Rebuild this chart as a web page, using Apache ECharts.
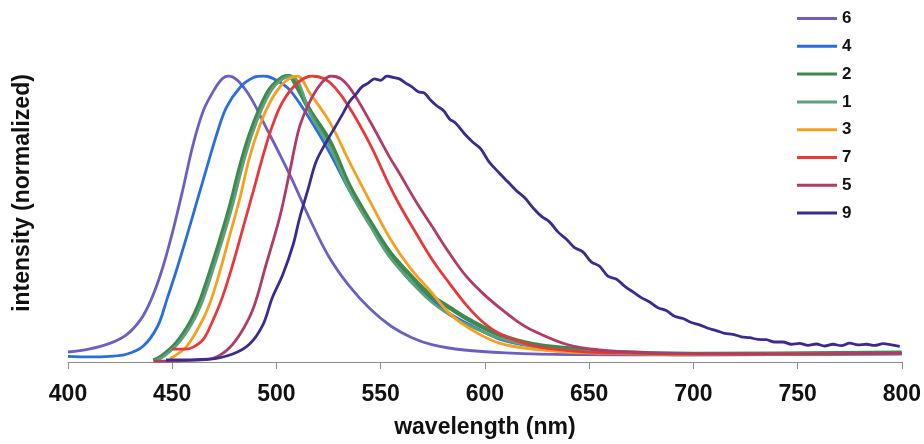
<!DOCTYPE html>
<html>
<head>
<meta charset="utf-8">
<script src="https://cdn.jsdelivr.net/npm/echarts@6/dist/echarts.min.js"></script>
<style>
  html, body { margin: 0; padding: 0; background: #fff; }
  #chart { width: 924px; height: 444px; }
</style>
</head>
<body>
<div id="chart"></div>
<script>
// legend order and colours
var names = ['6', '4', '2', '1', '3', '7', '5', '9'];
var colors = ['#6a60c2', '#2a6ede', '#3e8a4e', '#5fa07c', '#f5a021', '#e8383a', '#b03a68', '#3a2c8e'];
var widths = [2.8, 2.8, 4.5, 2.8, 2.8, 2.8, 2.8, 2.8];

var xTicks = [400, 450, 500, 550, 600, 650, 700, 750, 800];

// wavelength (nm) / normalized intensity
var wl6 = [400, 410, 420, 428, 435, 440, 445, 450, 455, 460, 465, 470, 474, 477, 482, 488, 495, 502, 508, 516, 525, 535, 545, 555, 565, 575, 590, 610, 640, 700, 800];
var int6 = [.035, .045, .065, .095, .15, .22, .32, .45, .6, .76, .88, .95, .99, 1.0, .98, .92, .82, .72, .63, .5, .37, .265, .185, .125, .085, .06, .042, .032, .026, .025, .028];

var wl4 = [400, 410, 420, 428, 436, 443, 447.5, 452, 457, 462, 467, 471.5, 476, 482.5, 489, 494, 500, 506.5, 516, 525.7, 535, 545, 554.4, 564, 573.6, 583, 592.8, 607, 623, 640, 660, 700, 800];
var int4 = [.02, .018, .02, .027, .055, .125, .22, .32, .44, .565, .69, .8, .89, .96, .995, 1.0, .985, .95, .85, .73, .6, .48, .375, .285, .225, .17, .13, .08, .055, .042, .032, .027, .03];

var wl2 = [441, 445, 452, 458.5, 463, 468, 473, 478, 482.5, 487, 492, 497, 503, 506, 510, 516, 525.7, 535, 545, 554, 564, 573.6, 583, 593, 607, 623, 639, 660, 700, 800];
var int2 = [.005, .02, .066, .135, .204, .31, .425, .55, .68, .79, .885, .955, .995, 1.0, .96, .88, .77, .616, .49, .387, .305, .235, .19, .145, .095, .062, .048, .035, .028, .032];

var wl1 = [442, 446, 453, 459.5, 464, 469, 474, 479, 483.5, 488, 493, 498, 503, 507, 511, 516, 525.7, 535, 545, 554, 564, 573.6, 583, 593, 607, 623, 640, 660, 700, 800];
var int1 = [.005, .02, .066, .135, .204, .31, .425, .55, .68, .79, .885, .955, .99, 1.0, .97, .87, .75, .6, .475, .37, .285, .215, .165, .125, .083, .055, .04, .032, .027, .03];

var wl3 = [449, 453, 457, 463, 468, 473, 477.7, 482.5, 487, 492, 497, 502, 506, 510, 516, 525.7, 535, 545, 554.4, 564, 573.6, 583, 593, 607, 623, 640, 660, 700, 800];
var int3 = [.012, .03, .055, .125, .204, .32, .446, .574, .713, .827, .91, .965, .99, 1.0, .94, .837, .7, .56, .433, .33, .25, .17, .115, .066, .045, .035, .03, .027, .03];

var wl7 = [450, 456, 460, 465, 469.5, 474, 479, 484, 489, 493.5, 498, 503, 510, 517, 523, 528, 535, 545, 554, 559, 567, 575, 583, 591, 599, 607, 623, 640, 660, 700, 800];
var int7 = [.045, .045, .052, .08, .145, .225, .34, .47, .6, .72, .825, .91, .975, 1.0, .99, .96, .89, .76, .62, .55, .45, .355, .275, .2, .14, .1, .057, .04, .032, .028, .03];

var wl5 = [441, 455, 468, 476, 482.5, 489, 495, 501.7, 506.5, 511, 516, 521, 526, 531, 536, 545, 554, 559, 567, 575, 583, 591, 599, 607, 615, 623, 639, 655, 680, 720, 800];
var int5 = [.003, .005, .01, .04, .097, .19, .34, .51, .67, .82, .91, .97, 1.0, .99, .95, .84, .72, .66, .56, .47, .38, .3, .24, .19, .145, .11, .062, .042, .032, .028, .03];

var wl9 = [447, 468, 479, 487, 493.5, 498, 503, 508, 511, 515, 519, 524, 528, 532, 535, 538, 541, 544, 547, 550, 553, 556, 559, 562, 565, 568, 571, 574, 577, 580, 583, 586, 590, 594, 598, 602, 607, 611, 615, 619, 623, 627, 631, 635, 639, 643, 647, 651, 655, 659, 663, 667, 671, 675, 679, 683, 687, 691, 695, 699, 703, 707, 711, 715, 719, 723, 727, 731, 735, 739, 743, 747, 751, 755, 759, 763, 767, 771, 775, 779, 783, 787, 791, 795, 799];
var int9 = [.007, .01, .028, .062, .13, .225, .305, .41, .5, .6, .7, .77, .82, .87, .91, .935, .962, .975, .99, .985, 1.0, .995, .99, .975, .962, .945, .94, .915, .895, .88, .85, .835, .8, .77, .745, .7, .66, .63, .6, .575, .54, .51, .49, .455, .43, .4, .385, .35, .335, .3, .29, .265, .245, .225, .21, .19, .18, .16, .152, .138, .13, .118, .11, .1, .097, .088, .085, .079, .078, .07, .07, .062, .065, .058, .063, .056, .062, .057, .066, .06, .062, .058, .064, .06, .055];

var wls = [wl6, wl4, wl2, wl1, wl3, wl7, wl5, wl9];
var ints = [int6, int4, int2, int1, int3, int7, int5, int9];

var font = "'Liberation Sans', Arial, sans-serif";

var series = names.map(function (n, i) {
  return {
    name: n,
    type: 'line',
    data: wls[i].map(function (w, j) { return [w, ints[i][j]]; }),
    showSymbol: false,
    smooth: 0.35,
    lineStyle: { color: colors[i], width: widths[i] },
    itemStyle: { color: colors[i] }
  };
});

var chart = echarts.init(document.getElementById('chart'));
chart.setOption({
  backgroundColor: '#fff',
  animation: false,
  grid: { left: 68, right: 22, top: 76, bottom: 79 },
  legend: {
    orient: 'vertical',
    left: 792,
    top: 5,
    icon: 'rect',
    itemWidth: 40,
    itemHeight: 3,
    itemGap: 10.8,
    data: names,
    textStyle: { fontFamily: font, fontWeight: 'bold', fontSize: 17, lineHeight: 17, color: '#111' }
  },
  xAxis: {
    type: 'value',
    min: xTicks[0],
    max: xTicks[xTicks.length - 1],
    interval: 50,
    name: 'wavelength (nm)',
    nameLocation: 'middle',
    nameGap: 54,
    nameTextStyle: { fontFamily: font, fontWeight: 'bold', fontSize: 23, color: '#111' },
    axisLine: { lineStyle: { color: '#8c8c8c', width: 1 } },
    axisTick: { show: true, length: 7, lineStyle: { color: '#8c8c8c' } },
    axisLabel: { margin: 21, fontFamily: font, fontWeight: 'bold', fontSize: 23, color: '#111' },
    splitLine: { show: false }
  },
  yAxis: {
    type: 'value',
    min: 0,
    max: 1,
    show: false
  },
  graphic: [{
    type: 'text',
    x: 23,
    y: 193,
    rotation: Math.PI / 2,
    style: {
      text: 'intensity (normalized)',
      fontFamily: font,
      fontWeight: 'bold',
      fontSize: 23,
      fill: '#111',
      textAlign: 'center',
      textVerticalAlign: 'middle'
    }
  }],
  series: series
});
</script>
</body>
</html>
